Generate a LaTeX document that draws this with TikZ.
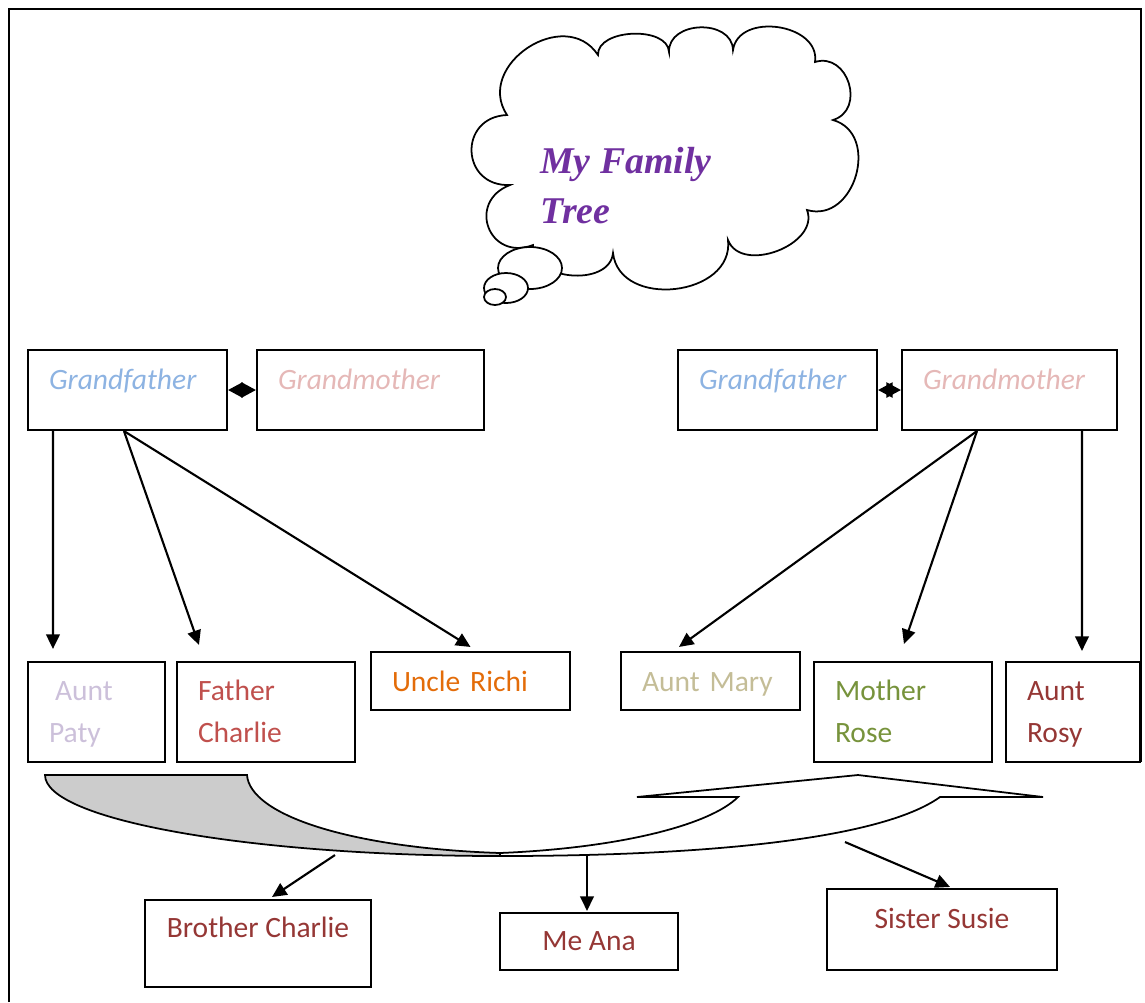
\documentclass[tikz,border=0pt]{standalone}
\usepackage{fontspec}
\setmainfont{Carlito}
\newfontfamily\titlefont{Liberation Serif}
\usetikzlibrary{arrows.meta,calc}
\definecolor{gfblue}{HTML}{8DB3E2}
\definecolor{gmpink}{HTML}{E5B8B7}
\definecolor{patylilac}{HTML}{CCC0DA}
\definecolor{fatherred}{HTML}{C0504D}
\definecolor{richiorange}{HTML}{E36C09}
\definecolor{marykhaki}{HTML}{C4BD97}
\definecolor{rosegreen}{HTML}{77933C}
\definecolor{kidred}{HTML}{953735}
\definecolor{titlepurple}{HTML}{7030A0}
\definecolor{backgray}{HTML}{CCCCCC}
\tikzstyle{arrow} = [-{Triangle[length=0.29cm,width=0.27cm]}, line width=1.2pt]
\tikzstyle{couple} = [{Triangle[length=0.29cm,width=0.3cm]}-{Triangle[length=0.29cm,width=0.3cm]}, line width=1.2pt]
\tikzstyle{box} = [draw, line width=1.2pt, rectangle, inner xsep=0.42cm, inner ysep=0pt, align=left, text height=0.4cm, font=\fontsize{16.8}{24}\selectfont]
\tikzstyle{kidbox} = [draw, line width=1.2pt, rectangle, inner sep=0pt, align=center, text=kidred, font=\fontsize{16.8}{24}\selectfont]
\tikzstyle{bubble} = [draw, line width=1pt, fill=white]

\begin{document}
\begin{tikzpicture}[x=0.02cm, y=0.02cm]
        \useasboundingbox (0,0) rectangle (1145,-1002);
        \draw[line width=1.2pt] (9,-1002) -- (9,-9) -- (1141,-9) -- (1141,-762);

        % thought cloud
        \draw[bubble] (510,-185) to[bend left=90, looseness=1.8] (507,-115)
            to[bend left=90, looseness=1.4] (598,-55)
            to[bend left=90, looseness=0.95] (669,-52)
            to[bend left=90, looseness=1.26] (733,-50)
            to[bend left=90, looseness=1.2] (815,-62)
            to[bend left=90, looseness=1.46] (833,-120)
            to[bend left=90, looseness=1.36] (807,-210)
            to[bend left=90, looseness=1.12] (728,-240)
            to[bend left=90, looseness=1.26] (613,-253)
            to[bend left=90, looseness=1.12] (533,-245)
            to[bend left=90, looseness=1.87] (510,-185) -- cycle;
        \draw[bubble] (530,-268) ellipse [x radius=32, y radius=21];
        \draw[bubble] (506,-288) ellipse [x radius=22, y radius=15];
        \draw[bubble] (495,-297) ellipse [x radius=11, y radius=8];
        \node[anchor=north west, inner sep=0pt, align=left, text=titlepurple,
              font=\titlefont\fontsize{21.5}{28.5}\selectfont\bfseries\itshape] (title) at (540,-147) {My Family\\Tree};

        % grandparents
        \node[box, minimum width=3.98cm, minimum height=1.6cm, text width=3.14cm, text depth=0.44cm, text=gfblue, font=\fontsize{16.8}{24}\selectfont\itshape] (gfa) at (127.5,-390) {Grandfather};
        \node[box, minimum width=4.54cm, minimum height=1.6cm, text width=3.7cm, text depth=0.44cm, text=gmpink, font=\fontsize{16.8}{24}\selectfont\itshape] (gma) at (370.5,-390) {Grandmother};
        \node[box, minimum width=3.98cm, minimum height=1.6cm, text width=3.14cm, text depth=0.44cm, text=gfblue, font=\fontsize{16.8}{24}\selectfont\itshape] (gfb) at (777.5,-390) {Grandfather};
        \node[box, minimum width=4.3cm, minimum height=1.6cm, text width=3.46cm, text depth=0.44cm, text=gmpink, font=\fontsize{16.8}{24}\selectfont\itshape] (gmb) at (1009.5,-390) {Grandmother};

        % parents, aunts, uncle
        \node[box, minimum width=2.74cm, minimum height=2cm, text width=1.9cm, text depth=0.85cm, text=patylilac] (paty) at (96.5,-712) {\hspace*{0.12cm}Aunt\\Paty};
        \node[box, minimum width=3.56cm, minimum height=2cm, text width=2.72cm, text depth=0.85cm, text=fatherred] (charlie) at (266,-712) {Father\\Charlie};
        \node[box, minimum width=3.98cm, minimum height=1.16cm, text width=3.14cm, text depth=0cm, text=richiorange] (richi) at (470.5,-681) {Uncle Richi};
        \node[box, minimum width=3.58cm, minimum height=1.16cm, text width=2.74cm, text depth=0cm, text=marykhaki] (mary) at (710.5,-681) {Aunt Mary};
        \node[box, minimum width=3.56cm, minimum height=2cm, text width=2.72cm, text depth=0.85cm, text=rosegreen] (rose) at (903,-712) {Mother\\Rose};
        \node[box, minimum width=2.68cm, minimum height=2cm, text width=1.84cm, text depth=0.85cm, text=kidred] (rosy) at (1073,-712) {Aunt\\Rosy};

        % children
        \node[kidbox, minimum width=4.52cm, minimum height=1.74cm, text height=0.4cm, text depth=0.66cm] (brother) at (258,-943.5) {Brother Charlie};
        \node[kidbox, minimum width=3.56cm, minimum height=1.14cm] (ana) at (589,-941.5) {Me Ana};
        \node[kidbox, minimum width=4.6cm, minimum height=1.62cm, text height=0.4cm, text depth=0.46cm] (susie) at (942,-929.5) {Sister Susie};

        \draw[couple] (gfa.east) -- (gma.west);
        \draw[couple] (gfb.east) -- (gmb.west);

        \draw[arrow] ($(gfa.south west)+(26,0)$) -- ($(paty.north west)+(26,12)$);
        \draw[arrow] ($(gfa.south west)+(97,0)$) -- ($(charlie.north west)+(23,16)$);
        \draw[arrow] ($(gfa.south west)+(97,0)$) -- ($(richi.north)+(0,4)$);
        \draw[arrow] ($(gmb.south west)+(76,0)$) -- ($(mary.north west)+(59,4)$);
        \draw[arrow] ($(gmb.south west)+(76,0)$) -- ($(rose.north west)+(91,17)$);
        \draw[arrow] ($(gmb.south west)+(181,0)$) -- ($(rosy.north west)+(77,10)$);

        % curved up arrow joining the two families
        \draw[line width=1pt, fill=backgray] (45,-775) -- (247,-775)
            .. controls (250,-815) and (350,-848) .. (500,-853) -- (500,-856)
            .. controls (250,-856) and (45,-820) .. (45,-775) -- cycle;
        \draw[line width=1pt, fill=white] (500,-853)
            .. controls (620,-848) and (710,-825) .. (738,-797)
            -- (637,-797) -- (858,-775) -- (1043,-797) -- (940,-797)
            .. controls (880,-840) and (700,-856) .. (500,-856) -- cycle;

        \coordinate (kidl) at (335,-855);
        \coordinate (kidm) at (587,-856);
        \coordinate (kidr) at (845,-842);
        \draw[arrow] (kidl) -- ($(brother.north)+(14,2)$);
        \draw[arrow] (kidm) -- ($(ana.north)+(-2,1)$);
        \draw[arrow] (kidr) -- ($(susie.north)+(8,1)$);

    \end{tikzpicture}
\end{document}
